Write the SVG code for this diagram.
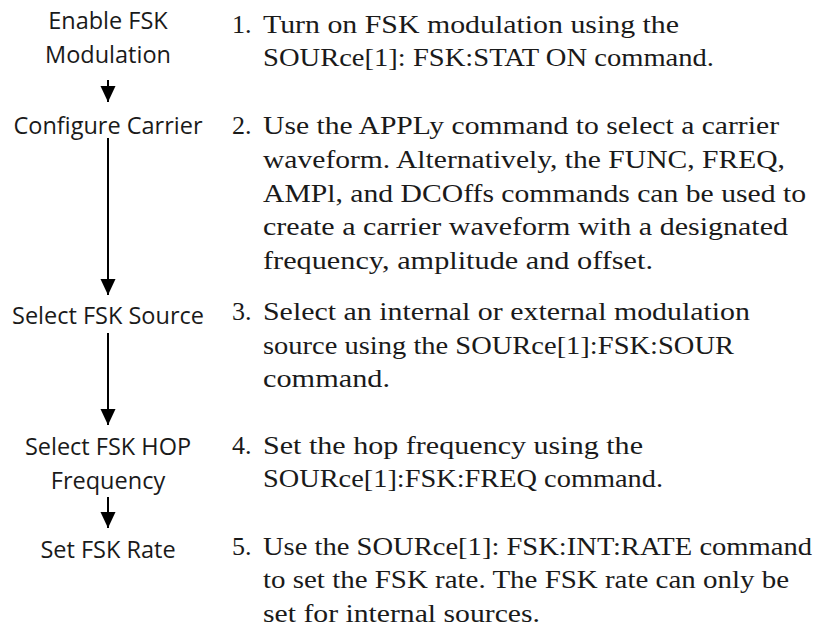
<svg xmlns="http://www.w3.org/2000/svg" width="816" height="634" viewBox="0 0 816 634">
<style>
.lbl{font-family:"Open Sans","Noto Sans",sans-serif;font-size:23.5px;fill:#1a1a1a;text-anchor:middle}
.txt{font-family:"Liberation Serif","Times New Roman",serif;font-size:26px;fill:#1a1a1a}
.con{stroke:#000;stroke-width:2;fill:none}
</style>
<defs>
<marker id="ah" markerUnits="userSpaceOnUse" markerWidth="16" markerHeight="17" refX="17" refY="8" orient="auto" viewBox="0 0 17 16">
<path d="M0,0 L17,8 L0,16 z" fill="#000"/>
</marker>
</defs>
<rect width="816" height="634" fill="#fff"/>
<g id="n1"><text class="lbl" x="108" y="29">Enable FSK</text><text class="lbl" x="108" y="63">Modulation</text></g>
<g id="n2"><text class="lbl" x="108" y="134">Configure Carrier</text></g>
<g id="n3"><text class="lbl" x="108" y="324">Select FSK Source</text></g>
<g id="n4"><text class="lbl" x="108" y="455">Select FSK HOP</text><text class="lbl" x="108" y="489">Frequency</text></g>
<g id="n5"><text class="lbl" x="108" y="558">Set FSK Rate</text></g>
<g id="connectors">
<line class="con" x1="108" y1="80" x2="108" y2="102" marker-end="url(#ah)"/>
<line class="con" x1="108" y1="138" x2="108" y2="295" marker-end="url(#ah)"/>
<line class="con" x1="108" y1="333" x2="108" y2="425" marker-end="url(#ah)"/>
<line class="con" x1="108" y1="497" x2="108" y2="528" marker-end="url(#ah)"/>
</g>
<g id="steps">
<text class="txt" x="232" y="33">1.</text><text class="txt" x="263" y="33" textLength="416" lengthAdjust="spacingAndGlyphs">Turn on FSK modulation using the</text>
<text class="txt" x="263" y="66" textLength="451" lengthAdjust="spacingAndGlyphs">SOURce[1]: FSK:STAT ON command.</text>
<text class="txt" x="232" y="134">2.</text><text class="txt" x="263" y="134" textLength="516" lengthAdjust="spacingAndGlyphs">Use the APPLy command to select a carrier</text>
<text class="txt" x="263" y="168" textLength="522" lengthAdjust="spacingAndGlyphs">waveform. Alternatively, the FUNC, FREQ,</text>
<text class="txt" x="263" y="202" textLength="543" lengthAdjust="spacingAndGlyphs">AMPl, and DCOffs commands can be used to</text>
<text class="txt" x="263" y="235" textLength="525" lengthAdjust="spacingAndGlyphs">create a carrier waveform with a designated</text>
<text class="txt" x="263" y="269" textLength="390" lengthAdjust="spacingAndGlyphs">frequency, amplitude and offset.</text>
<text class="txt" x="232" y="320">3.</text><text class="txt" x="263" y="320" textLength="487" lengthAdjust="spacingAndGlyphs">Select an internal or external modulation</text>
<text class="txt" x="263" y="354" textLength="471" lengthAdjust="spacingAndGlyphs">source using the SOURce[1]:FSK:SOUR</text>
<text class="txt" x="263" y="387" textLength="127" lengthAdjust="spacingAndGlyphs">command.</text>
<text class="txt" x="232" y="454">4.</text><text class="txt" x="263" y="454" textLength="380" lengthAdjust="spacingAndGlyphs">Set the hop frequency using the</text>
<text class="txt" x="263" y="487" textLength="400" lengthAdjust="spacingAndGlyphs">SOURce[1]:FSK:FREQ command.</text>
<text class="txt" x="232" y="555">5.</text><text class="txt" x="263" y="555" textLength="549" lengthAdjust="spacingAndGlyphs">Use the SOURce[1]: FSK:INT:RATE command</text>
<text class="txt" x="263" y="588" textLength="526" lengthAdjust="spacingAndGlyphs">to set the FSK rate. The FSK rate can only be</text>
<text class="txt" x="263" y="622" textLength="277" lengthAdjust="spacingAndGlyphs">set for internal sources.</text>
</g>
</svg>
